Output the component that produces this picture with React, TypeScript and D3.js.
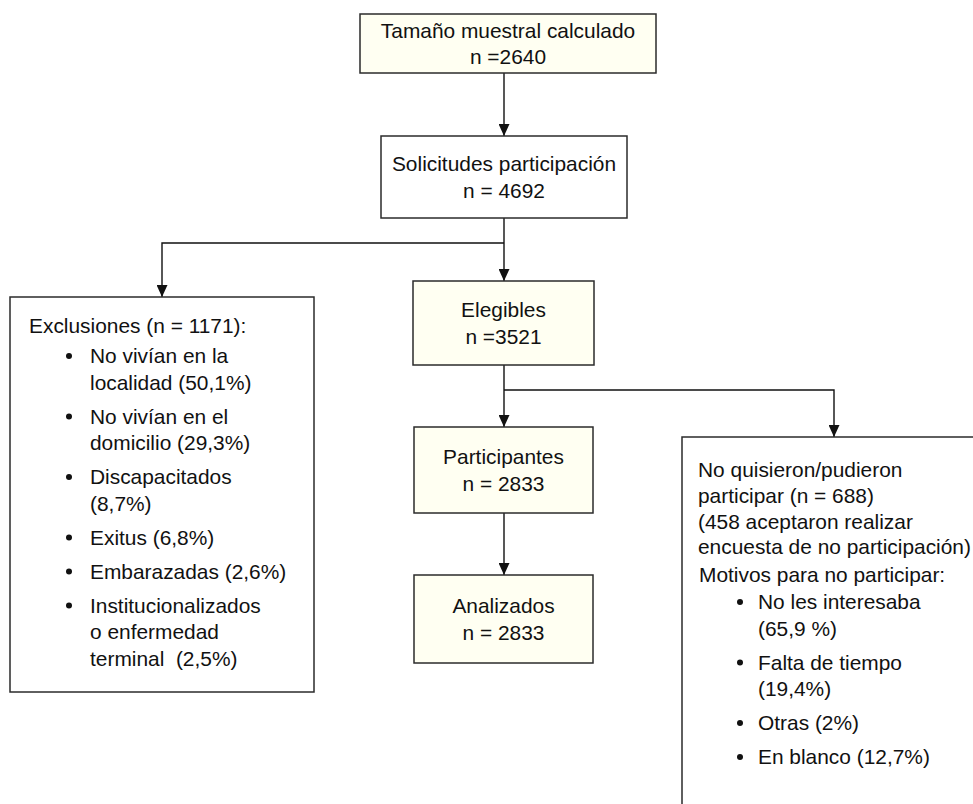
import * as d3 from "d3";
import React from "react";

// Central flow boxes
const stepTitles = [
  "Tamaño muestral calculado",
  "Solicitudes participación",
  "Elegibles",
  "Participantes",
  "Analizados",
];
const stepCounts = ["n =2640", "n = 4692", "n =3521", "n = 2833", "n = 2833"];
const stepShaded = [true, false, true, true, true];

// Left side box
const exclusionHeader = "Exclusiones (n = 1171):";
const exclusionItems = [
  ["No vivían en la", "localidad (50,1%)"],
  ["No vivían en el", "domicilio (29,3%)"],
  ["Discapacitados", "(8,7%)"],
  ["Exitus (6,8%)"],
  ["Embarazadas (2,6%)"],
  ["Institucionalizados", "o enfermedad", "terminal  (2,5%)"],
];

// Right side box
const refusalHeader = [
  "No quisieron/pudieron",
  "participar (n = 688)",
  "(458 aceptaron realizar",
  "encuesta de no participación)",
];
const reasonsHeader = "Motivos para no participar:";
const reasonItems = [
  ["No les interesaba", "(65,9 %)"],
  ["Falta de tiempo", "(19,4%)"],
  ["Otras (2%)"],
  ["En blanco (12,7%)"],
];

// layout (pixels)
const W = 973;
const H = 804;
const FONT = "'Liberation Sans', Arial, Helvetica, sans-serif";
const FS = 20.9;
const LINE = 26.5;
const CREAM = "#fffff2";
const BORDER = "#2b2b2b";

const boxes = [
  { x: 360, y: 14, w: 296, h: 59 },
  { x: 381, y: 136, w: 246, h: 82 },
  { x: 413, y: 281, w: 181, h: 84 },
  { x: 414, y: 427, w: 179, h: 86 },
  { x: 414, y: 575, w: 179, h: 88 },
];
const leftBox = { x: 10, y: 297, w: 304, h: 395 };
const rightBox = { x: 682, y: 437, w: 320, h: 400 };

const spineX = 504;
const split1Y = 243;
const split2Y = 390;
const leftArrowX = 162;
const rightArrowX = 834;

const line = d3.line<[number, number]>();

const Arrow: React.FC<{ pts: [number, number][] }> = ({ pts }) => (
  <path
    d={line(pts) ?? ""}
    fill="none"
    stroke="#111"
    strokeWidth={1.4}
    markerEnd="url(#arrowhead)"
  />
);

const Connector: React.FC<{ pts: [number, number][] }> = ({ pts }) => (
  <path d={line(pts) ?? ""} fill="none" stroke="#111" strokeWidth={1.4} />
);

const BulletList: React.FC<{
  items: string[][];
  bulletX: number;
  textX: number;
  startY: number;
  itemGap: number;
}> = ({ items, bulletX, textX, startY, itemGap }) => {
  let y = startY;
  const out: React.ReactNode[] = [];
  items.forEach((lines, i) => {
    out.push(<circle key={`b${i}`} cx={bulletX} cy={y} r={3} fill="#111" />);
    lines.forEach((l, j) => {
      out.push(
        <text key={`t${i}-${j}`} x={textX} y={y + j * LINE} dy="0.35em" style={{ whiteSpace: "pre" }}>
          {l}
        </text>
      );
    });
    y += (lines.length - 1) * LINE + itemGap;
  });
  return <g>{out}</g>;
};

export default function App() {
  const bottomOf = (b: { y: number; h: number }) => b.y + b.h;
  return (
    <svg
      width={W}
      height={H}
      style={{ position: "absolute", left: 0, top: 0, overflow: "hidden", background: "#fff" }}
      fontFamily={FONT}
      fontSize={FS}
      fill="#111"
    >
      <defs>
        <marker
          id="arrowhead"
          viewBox="0 0 12 11"
          refX={12}
          refY={5.5}
          markerWidth={12}
          markerHeight={11}
          markerUnits="userSpaceOnUse"
          orient="auto"
        >
          <path d="M0,0 L12,5.5 L0,11 Z" fill="#111" />
        </marker>
      </defs>

      {/* connectors */}
      <Arrow pts={[[spineX, bottomOf(boxes[0])], [spineX, boxes[1].y]]} />
      <Connector pts={[[spineX, bottomOf(boxes[1])], [spineX, split1Y]]} />
      <Arrow pts={[[spineX, split1Y], [spineX, boxes[2].y]]} />
      <Arrow pts={[[spineX, split1Y], [leftArrowX, split1Y], [leftArrowX, leftBox.y]]} />
      <Connector pts={[[spineX, bottomOf(boxes[2])], [spineX, split2Y]]} />
      <Arrow pts={[[spineX, split2Y], [spineX, boxes[3].y]]} />
      <Arrow pts={[[spineX, split2Y], [rightArrowX, split2Y], [rightArrowX, rightBox.y]]} />
      <Arrow pts={[[spineX, bottomOf(boxes[3])], [spineX, boxes[4].y]]} />

      {/* central boxes */}
      {boxes.map((b, i) => (
        <g key={i}>
          <rect
            x={b.x}
            y={b.y}
            width={b.w}
            height={b.h}
            fill={stepShaded[i] ? CREAM : "#fff"}
            stroke={BORDER}
            strokeWidth={1.5}
          />
          <text x={b.x + b.w / 2} y={b.y + b.h / 2 - LINE / 2} dy="0.35em" textAnchor="middle">
            {stepTitles[i]}
          </text>
          <text x={b.x + b.w / 2} y={b.y + b.h / 2 + LINE / 2} dy="0.35em" textAnchor="middle">
            {stepCounts[i]}
          </text>
        </g>
      ))}

      {/* exclusions box */}
      <rect
        x={leftBox.x}
        y={leftBox.y}
        width={leftBox.w}
        height={leftBox.h}
        fill="#fff"
        stroke={BORDER}
        strokeWidth={1.5}
      />
      <text x={29} y={326} dy="0.35em">
        {exclusionHeader}
      </text>
      <BulletList items={exclusionItems} bulletX={69} textX={90} startY={356} itemGap={34} />

      {/* refusal box */}
      <rect
        x={rightBox.x}
        y={rightBox.y}
        width={rightBox.w}
        height={rightBox.h}
        fill="#fff"
        stroke={BORDER}
        strokeWidth={1.5}
      />
      {refusalHeader.map((l, i) => (
        <text key={i} x={698} y={470 + i * 25.7} dy="0.35em">
          {l}
        </text>
      ))}
      <text x={699} y={575} dy="0.35em">
        {reasonsHeader}
      </text>
      <BulletList items={reasonItems} bulletX={740} textX={758} startY={602} itemGap={34} />
    </svg>
  );
}
